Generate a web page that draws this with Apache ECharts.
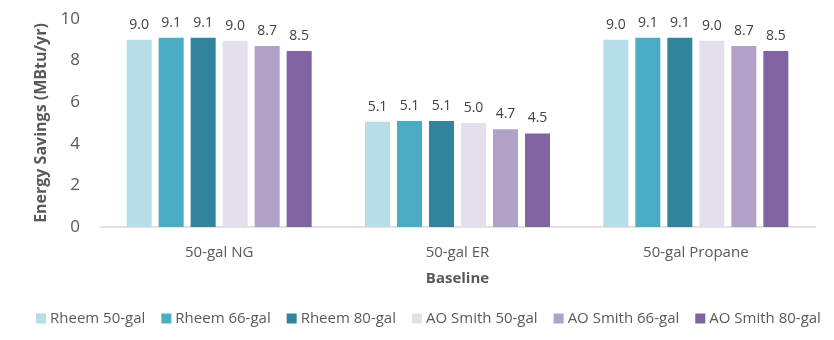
<!DOCTYPE html>
<html><head><meta charset="utf-8">
<script src="https://cdn.jsdelivr.net/npm/echarts@6/dist/echarts.min.js"></script>
<style>html,body{margin:0;padding:0;background:#fff}#c{width:834px;height:340px}</style>
</head><body><div id="c"></div>
<script>
const categories = ['50-gal NG', '50-gal ER', '50-gal Propane'];
const seriesNames = ['Rheem 50-gal', 'Rheem 66-gal', 'Rheem 80-gal', 'AO Smith 50-gal', 'AO Smith 66-gal', 'AO Smith 80-gal'];
const rheem50 = [9.0, 5.06, 9.0];
const rheem66 = [9.1, 5.1, 9.1];
const rheem80 = [9.1, 5.1, 9.1];
const aoSmith50 = [8.96, 5.0, 8.96];
const aoSmith66 = [8.7, 4.7, 8.7];
const aoSmith80 = [8.46, 4.5, 8.46];
const yTicks = [0, 2, 4, 6, 8, 10];
const colors = ['#b7dde8', '#4bacc6', '#31849b', '#e4dfec', '#b1a0c7', '#8064a2'];
const values = [rheem50, rheem66, rheem80, aoSmith50, aoSmith66, aoSmith80];

const font = 'Open Sans';
const chart = echarts.init(document.getElementById('c'), null, {renderer: 'canvas'});
chart.setOption({
  animation: false,
  color: colors,
  grid: {left: 100, right: 19, top: 19, bottom: 113, containLabel: false},
  legend: {
    left: 31, top: 306, itemWidth: 10, itemHeight: 10, itemGap: 16,
    icon: 'rect',
    textStyle: {fontFamily: font, fontSize: 15, color: '#595959', padding: [0, 0, 0, -1]},
    data: seriesNames
  },
  xAxis: {
    type: 'category', data: categories,
    axisLine: {lineStyle: {color: '#d9d9d9', width: 1.5}},
    axisTick: {show: false},
    axisLabel: {fontFamily: font, fontSize: 15, color: '#595959', margin: 18},
    name: 'Baseline', nameLocation: 'middle', nameGap: 44,
    nameTextStyle: {fontFamily: font, fontSize: 15, fontWeight: 'bold', color: '#595959'}
  },
  yAxis: {
    type: 'value', min: 0, max: 10, interval: 2,
    axisLine: {show: false}, axisTick: {show: false}, splitLine: {show: false},
    axisLabel: {fontFamily: font, fontSize: 17, color: '#595959', margin: 20,
      formatter: v => yTicks.includes(v) ? String(v) : ''},
    name: 'Energy Savings (MBtu/yr)', nameLocation: 'middle', nameGap: 50, nameRotate: 90,
    nameTextStyle: {fontFamily: font, fontSize: 16, fontWeight: 'bold', color: '#595959'}
  },
  series: seriesNames.map((n, i) => ({
    name: n, type: 'bar', data: values[i], barWidth: 25, barGap: '28%',
    itemStyle: {color: colors[i]},
    label: {show: true, position: 'top', distance: 8, fontFamily: font, fontSize: 14, color: '#404040',
      formatter: p => (Math.round(p.value * 10) / 10).toFixed(1)}
  }))
});
</script></body></html>
